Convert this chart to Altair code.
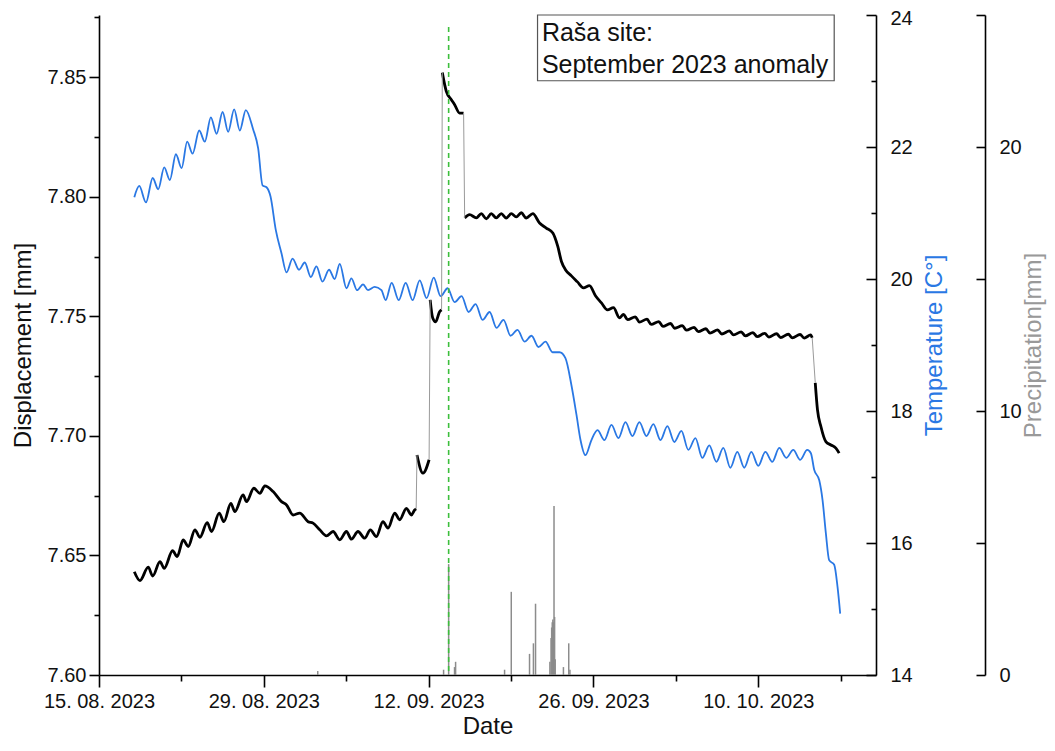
import altair as alt
import pandas as pd

FONT = "Liberation Sans"
BLUE = "#2a78e4"
GRAY = "#8c8c8c"
GREEN = "#3cbf3c"
BASE = pd.Timestamp("2023-08-15")

# Displacement [mm] : day offset from 15.08.2023, value
disp_day = [3.00, 3.48, 4.18, 4.56, 5.18, 5.54, 6.25, 6.64, 7.15, 7.58,
            8.15, 8.57, 9.19, 9.56, 10.21, 10.61, 11.20, 11.54, 12.24, 12.53,
            13.15, 13.66, 14.09, 14.79, 15.50, 15.93, 16.49, 17.05, 17.76, 18.18,
            18.75, 19.32, 19.88, 20.45, 21.02, 21.44, 22.00, 22.57, 23.05, 23.56,
            24.12, 24.55, 25.12, 25.54, 26.11, 26.53, 26.81, 26.94, 27.01, 27.52,
            28.04, 28.13, 28.34, 28.59, 28.93, 29.10, 29.16, 29.50, 29.93, 30.21,
            30.63, 30.97, 31.06, 31.48, 32.05, 32.47, 32.90, 33.32, 33.74, 34.17,
            34.59, 35.02, 35.44, 35.87, 36.29, 36.85, 37.42, 37.99, 38.55, 38.97,
            39.29, 39.62, 40.13, 40.64, 41.15, 41.66, 42.17, 42.68, 43.19, 43.70,
            44.21, 44.55, 44.90, 45.55, 45.90, 46.55, 46.90, 47.55, 47.90, 48.55,
            48.90, 49.55, 49.90, 50.55, 50.90, 51.55, 51.90, 52.55, 52.90, 53.55,
            53.90, 54.55, 54.90, 55.55, 55.90, 56.55, 56.90, 57.55, 57.90, 58.55,
            58.90, 59.55, 59.90, 60.45, 60.58,
            60.84, 61.03, 61.32, 61.74, 62.17, 62.59, 62.87]
disp_val = [7.6432, 7.6395, 7.6451, 7.6414, 7.6474, 7.6446, 7.6520, 7.6495, 7.6565, 7.6537,
            7.6607, 7.6576, 7.6637, 7.6600, 7.6677, 7.6641, 7.6718, 7.6683, 7.6753, 7.6725,
            7.6781, 7.6760, 7.6791, 7.6767, 7.6725, 7.6711, 7.6669, 7.6677, 7.6641, 7.6635,
            7.6607, 7.6582, 7.6600, 7.6565, 7.6600, 7.6568, 7.6600, 7.6572, 7.6607, 7.6579,
            7.6641, 7.6614, 7.6677, 7.6649, 7.6697, 7.6669, 7.6690, 7.6695, 7.6920, 7.6844,
            7.6900, 7.7569, 7.7494, 7.7477, 7.7519, 7.7527, 7.8519, 7.8441, 7.8406, 7.8385,
            7.8350, 7.8350, 7.7911, 7.7925, 7.7912, 7.7929, 7.7908, 7.7929, 7.7912, 7.7929,
            7.7911, 7.7929, 7.7916, 7.7933, 7.7911, 7.7929, 7.7890, 7.7869, 7.7848, 7.7792,
            7.7728, 7.7695, 7.7669, 7.7644, 7.7619, 7.7628, 7.7586, 7.7556, 7.7527, 7.7536,
            7.7494, 7.7508, 7.7486, 7.7498, 7.7476, 7.7488, 7.7466, 7.7478, 7.7458, 7.7470,
            7.7450, 7.7461, 7.7442, 7.7454, 7.7436, 7.7448, 7.7430, 7.7443, 7.7426, 7.7439,
            7.7422, 7.7435, 7.7418, 7.7432, 7.7415, 7.7429, 7.7413, 7.7427, 7.7411, 7.7425,
            7.7410, 7.7424, 7.7409, 7.7422, 7.7410,
            7.7222, 7.7109, 7.7039, 7.6976, 7.6962, 7.6949, 7.6928]
# days at which the displacement series jumps (drawn as thin connectors)
disp_breaks = [27.0, 28.1, 29.13, 31.0, 60.7]

# Temperature [C°]
temp_day = [3.00, 3.42, 3.99, 4.56, 5.03, 5.54, 6.02, 6.53, 7.02, 7.49,
            7.95, 8.51, 8.99, 9.50, 9.99, 10.50, 10.97, 11.48, 11.96, 12.47,
            13.09, 13.52, 13.89, 14.23, 14.57, 15.02, 15.50, 15.93, 16.44, 16.99,
            17.48, 17.99, 18.47, 18.98, 19.54, 20.02, 20.45, 21.02, 21.44, 21.92,
            22.43, 22.85, 23.42, 23.99, 24.35, 24.86, 25.46, 26.05, 26.64, 27.24,
            27.83, 28.43, 29.02, 29.61, 30.21, 30.80, 31.39, 31.99, 32.58, 33.18,
            33.77, 34.36, 34.96, 35.55, 36.15, 36.74, 37.33, 37.93, 38.52, 39.12,
            39.62, 40.13, 40.56, 40.90, 41.32, 41.83, 42.34, 42.93, 43.53, 44.12,
            44.72, 45.31, 45.90, 46.50, 47.09, 47.69, 48.28, 48.87, 49.47, 50.06,
            50.66, 51.25, 51.84, 52.44, 53.03, 53.63, 54.22, 54.81, 55.41, 56.00,
            56.60, 57.19, 57.78, 58.38, 58.97, 59.56, 60.16, 60.47, 60.75, 61.18,
            61.46, 61.74, 62.02, 62.45, 62.73, 62.96]
temp_val = [21.24, 21.41, 21.16, 21.53, 21.36, 21.69, 21.50, 21.89, 21.68, 22.08,
            21.90, 22.25, 22.08, 22.45, 22.20, 22.53, 22.23, 22.57, 22.25, 22.56,
            22.27, 21.98, 21.42, 21.39, 21.25, 20.74, 20.39, 20.10, 20.31, 20.14,
            20.25, 20.03, 20.19, 19.96, 20.14, 20.00, 20.23, 19.86, 20.01, 19.83,
            19.92, 19.83, 19.88, 19.83, 19.68, 19.94, 19.68, 19.94, 19.68, 19.98,
            19.71, 20.02, 19.74, 19.86, 19.65, 19.74, 19.50, 19.62, 19.38, 19.50,
            19.26, 19.38, 19.14, 19.23, 19.05, 19.14, 18.97, 19.05, 18.89, 18.89,
            18.80, 18.39, 17.94, 17.56, 17.33, 17.56, 17.71, 17.56, 17.79, 17.59,
            17.83, 17.62, 17.83, 17.62, 17.80, 17.56, 17.77, 17.53, 17.70, 17.41,
            17.59, 17.29, 17.48, 17.23, 17.44, 17.14, 17.38, 17.14, 17.38, 17.17,
            17.38, 17.23, 17.44, 17.29, 17.41, 17.26, 17.41, 17.36, 17.11, 16.95,
            16.65, 16.15, 15.74, 15.67, 15.34, 14.93]

# Precipitation [mm]
prec_day = [18.58, 29.27, 29.70, 30.20, 30.29, 34.45, 35.02, 36.57, 36.90, 37.08,
            38.30, 38.40, 38.45, 38.50, 38.55, 38.60, 38.65, 38.70, 38.75, 39.45,
            39.90, 40.00]
prec_val = [0.15, 0.2, 4.2, 0.3, 0.5, 0.2, 3.15, 0.8, 1.2, 2.7,
            0.5, 1.4, 1.8, 2.0, 2.1, 2.0, 6.4, 2.2, 0.6, 0.3,
            1.2, 0.2]

event_day = [29.70]
box_lines = ["Raša site:", "September 2023 anomaly"]


def to_time(days):
    return [BASE + pd.Timedelta(days=d) for d in days]


seg_id = [sum(1 for b in disp_breaks if d > b) for d in disp_day]
disp = pd.DataFrame({"time": to_time(disp_day), "disp": disp_val, "seg": seg_id})
jump_rows = []
for k in range(len(disp_breaks)):
    a = disp[disp.seg == k].iloc[-1]
    b = disp[disp.seg == k + 1].iloc[0]
    jump_rows.append({"time": a.time, "disp": a.disp, "seg": k})
    jump_rows.append({"time": b.time, "disp": b.disp, "seg": k})
jumps = pd.DataFrame(jump_rows)

temp = pd.DataFrame({"time": to_time(temp_day), "temp": temp_val})
prec = pd.DataFrame({"time": to_time(prec_day), "prec": prec_val, "base": 0.0})
event = pd.DataFrame({"time": to_time(event_day), "top": [7.871], "bottom": [7.60]})
box = pd.DataFrame({"t1": to_time([37.25]), "t2": to_time([62.45]),
                    "v1": [7.8485], "v2": [7.876]})
box_text = pd.DataFrame({"time": to_time([37.62, 37.62]),
                         "v": [7.8686, 7.8552], "label": box_lines})

x_scale = alt.Scale(domain=[alt.DateTime(year=2023, month=8, date=15),
                            alt.DateTime(year=2023, month=10, date=20)],
                    nice=False)
disp_scale = alt.Scale(domain=[7.60, 7.876], nice=False, zero=False)
temp_scale = alt.Scale(domain=[14, 24], nice=False, zero=False)
prec_scale = alt.Scale(domain=[0, 25], nice=False, zero=True)

week_dates = [(8, 15), (8, 22), (8, 29), (9, 5), (9, 12), (9, 19), (9, 26), (10, 3), (10, 10), (10, 17)]
x_values = [alt.DateTime(year=2023, month=m, date=d) for m, d in week_dates]
x_major = "round((datum.value - datetime(2023,7,15))/86400000) % 14 == 0"

common_axis = dict(grid=False, domainColor="black", tickColor="black", domainWidth=1.6,
                   tickWidth=1.6, labelFont=FONT, titleFont=FONT, labelFontSize=20,
                   titleFontSize=24, titleFontWeight="normal", labelColor="#111",
                   labelOverlap=False, labelFlush=False)

x_axis = alt.Axis(values=x_values, title="Date", orient="bottom",
                  labelExpr=f"({x_major}) ? timeFormat(datum.value, '%d. %m. %Y') : ''",
                  tickSize={"condition": {"test": x_major, "value": 12}, "value": 6},
                  labelPadding=4, titlePadding=3, titleColor="#111", **common_axis)


def xenc(field="time"):
    return alt.X(f"{field}:T", scale=x_scale, axis=x_axis)


y_major = "abs(datum.value*20 - round(datum.value*20)) < 0.01"
disp_values = [round(7.60 + 0.025 * i, 3) for i in range(12)]
disp_axis = alt.Axis(values=disp_values, orient="left", title="Displacement [mm]",
                     labelExpr=f"({y_major}) ? format(datum.value, '.2f') : ''",
                     tickSize={"condition": {"test": y_major, "value": 10}, "value": 5},
                     labelPadding=3, titlePadding=12, titleColor="#111", **common_axis)

temp_values = list(range(14, 25))
temp_axis = alt.Axis(values=temp_values, orient="right", title="Temperature [C°]",
                     labelExpr="datum.value % 2 == 0 ? datum.label : ''",
                     labelOffset={"condition": {"test": "datum.value == 24", "value": 3}, "value": 0},
                     ticks=False, labelPadding=14, titlePadding=10, titleColor=BLUE,
                     titleAngle=270, titleBaseline="top", **common_axis)
temp_tick_axis = alt.Axis(values=temp_values, orient="left", offset=-777, labels=False,
                          domain=False, title=None, grid=False, tickColor="black", tickWidth=1.6,
                          tickSize={"condition": {"test": "datum.value % 2 == 0", "value": 10}, "value": 5})

prec_values = [0, 5, 10, 15, 20, 25]
prec_axis = alt.Axis(values=prec_values, orient="right", offset=109, title="Precipitation[mm]",
                     labelExpr="datum.value % 10 == 0 ? datum.label : ''",
                     ticks=False, labelPadding=14, titlePadding=0, titleColor="#999999",
                     titleAngle=270, titleBaseline="top", **common_axis)
prec_tick_axis = alt.Axis(values=prec_values, orient="left", offset=-886, labels=False,
                          domain=False, title=None, grid=False, tickColor="black", tickWidth=1.6,
                          tickSize=9)

event_layer = alt.Chart(event).mark_rule(color=GREEN, strokeDash=[5, 4], strokeWidth=1.6).encode(
    x=xenc(), y=alt.Y("top:Q", scale=disp_scale, axis=None), y2="bottom:Q")

prec_layer = alt.Chart(prec).mark_rule(color=GRAY, strokeWidth=1.5).encode(
    x=xenc(), y=alt.Y("prec:Q", scale=prec_scale, axis=prec_axis), y2="base:Q")

prec_tick_layer = alt.Chart(prec).mark_rule(strokeOpacity=0).encode(
    x=xenc(), y=alt.Y("prec:Q", scale=prec_scale, axis=prec_tick_axis), y2="base:Q")

disp_layer = alt.Chart(disp).mark_line(color="black", strokeWidth=2.8, interpolate="monotone").encode(
    x=xenc(), y=alt.Y("disp:Q", scale=disp_scale, axis=disp_axis), detail="seg:N")

jump_layer = alt.Chart(jumps).mark_line(color="#9a9a9a", strokeWidth=1.0).encode(
    x=xenc(), y=alt.Y("disp:Q", scale=disp_scale, axis=None), detail="seg:N")

temp_layer = alt.Chart(temp).mark_line(color=BLUE, strokeWidth=1.8, interpolate="monotone").encode(
    x=xenc(), y=alt.Y("temp:Q", scale=temp_scale, axis=temp_axis))

temp_tick_layer = alt.Chart(temp).mark_line(strokeOpacity=0).encode(
    x=xenc(), y=alt.Y("temp:Q", scale=temp_scale, axis=temp_tick_axis))

box_layer = alt.Chart(box).mark_rect(fill="white", stroke="#555", strokeWidth=1.2).encode(
    x=xenc("t1"), x2="t2:T",
    y=alt.Y("v1:Q", scale=disp_scale, axis=None), y2="v2:Q")

text_layer = alt.Chart(box_text).mark_text(align="left", baseline="middle", font=FONT,
                                           fontSize=25, color="#111").encode(
    x=xenc(), y=alt.Y("v:Q", scale=disp_scale, axis=None), text="label:N")

chart = alt.layer(
    disp_layer, temp_layer, temp_tick_layer, prec_layer, prec_tick_layer,
    event_layer, jump_layer, box_layer, text_layer
).resolve_scale(y="independent").resolve_axis(y="independent").properties(
    width=777, height=660,
    autosize=alt.AutoSizeParams(type="none"),
    padding={"left": 91, "top": 7, "right": 171, "bottom": 63},
).configure_view(strokeWidth=0)

chart.save("out.html", embed_options={"renderer": "svg", "actions": False})
